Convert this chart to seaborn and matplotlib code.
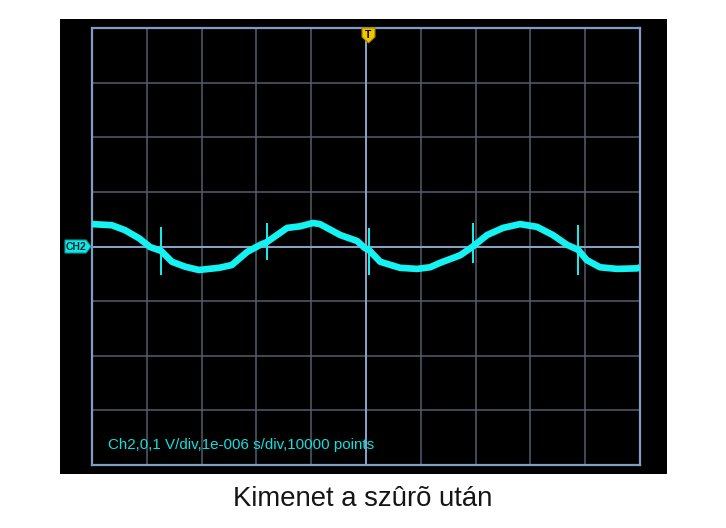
import matplotlib
matplotlib.use('Agg')
import matplotlib.pyplot as plt
import seaborn as sns
import pandas as pd
import numpy as np
from matplotlib.patches import Rectangle, Polygon

# trace readings: time in microseconds, CH2 voltage in volts (0.1 V/div, 1 us/div)
time_us = [-5.0, -4.64, -4.40, -4.14, -3.94, -3.74, -3.54, -3.30, -3.05, -2.68,
           -2.45, -2.17, -1.93, -1.81, -1.44, -1.20, -0.97, -0.84, -0.47, -0.16,
           -0.02, 0.05, 0.26, 0.62, 0.93, 1.17, 1.35, 1.72, 1.95, 2.21,
           2.50, 2.81, 3.12, 3.41, 3.67, 3.87, 4.03, 4.27, 4.58, 4.95, 5.0]
ch2_volts = [0.041, 0.039, 0.030, 0.015, -0.001, -0.008, -0.028, -0.037, -0.043, -0.039,
             -0.034, -0.010, 0.003, 0.008, 0.034, 0.037, 0.043, 0.041, 0.021, 0.010,
             -0.003, -0.006, -0.028, -0.039, -0.041, -0.038, -0.030, -0.016, 0.000, 0.021,
             0.034, 0.041, 0.036, 0.021, 0.003, -0.006, -0.025, -0.038, -0.041, -0.040, -0.038]

# switching spikes near the zero crossings
spike_times = [-3.74, -1.81, 0.05, 1.95, 3.87]
spike_tops = [0.036, 0.043, 0.034, 0.043, 0.039]
spike_bottoms = [-0.052, -0.025, -0.052, -0.030, -0.052]

info_text = "Ch2,0,1 V/div,1e-006 s/div,10000 points"
caption = "Kimenet a sz\u00fbr\u00f5 ut\u00e1n"

W, H = 726, 528


def px(x, y):
    # pixel position -> figure fraction
    return (x / W, 1 - y / H)


sns.set_style("dark")
plt.rcParams['font.family'] = ['Liberation Sans', 'DejaVu Sans']

fig = plt.figure(figsize=(W / 100, H / 100), dpi=100)
fig.patch.set_facecolor('white')
fig.add_artist(Rectangle(px(60, 474), 607 / W, 455 / H, transform=fig.transFigure,
                         facecolor='black', edgecolor='none', zorder=0))

ax = fig.add_axes([92 / W, 1 - 465 / H, 548 / W, 437 / H])
ax.set_facecolor('black')
ax.set_xlim(-5, 5)
ax.set_ylim(-0.4, 0.4)
ax.set_xticks(np.arange(-5, 6))
ax.set_yticks(np.arange(-4, 5) / 10)
ax.grid(True, color='#525d6c', linewidth=1.1)
ax.set_axisbelow(True)
ax.tick_params(length=0, labelbottom=False, labelleft=False)
for s in ax.spines.values():
    s.set_color('#7f9ec4')
    s.set_linewidth(1.6)
ax.axhline(0, color='#90aad0', linewidth=1.3, zorder=1)
ax.axvline(0, color='#90aad0', linewidth=1.3, zorder=1)

df = pd.DataFrame({'t': time_us, 'v': ch2_volts})
sns.lineplot(data=df, x='t', y='v', ax=ax, color='#14f2f2', linewidth=4.8,
             solid_joinstyle='round', solid_capstyle='butt', zorder=3)
ax.vlines(spike_times, spike_bottoms, spike_tops, color='#14f2f2', linewidth=1.4, zorder=4)
ax.set_xlabel('')
ax.set_ylabel('')

fig.text(*px(108, 445), info_text, color='#10e0e0', fontsize=10.9, va='center', ha='left')
fig.text(*px(363, 499), caption, color='#151515', fontsize=19.8, va='center', ha='center')

# CH2 ground marker
fig.add_artist(Polygon([px(65, 240), px(86, 240), px(91, 246.5), px(86, 253), px(65, 253)],
                       closed=True, transform=fig.transFigure, facecolor='#10e8e8',
                       edgecolor='#0aa0a0', linewidth=0.8, zorder=5))
fig.text(*px(76, 246.5), "CH2", color='#002a2a', fontsize=7.5, fontweight='bold',
         ha='center', va='center', zorder=6)

# trigger marker
fig.add_artist(Polygon([px(362, 28), px(375, 28), px(375, 37), px(368.5, 43), px(362, 37)],
                       closed=True, transform=fig.transFigure, facecolor='#f0c800',
                       edgecolor='#a08000', linewidth=0.8, zorder=5))
fig.text(*px(368.5, 34.5), "T", color='black', fontsize=7.5, fontweight='bold',
         ha='center', va='center', zorder=6)

fig.savefig('out.png', dpi=100)
